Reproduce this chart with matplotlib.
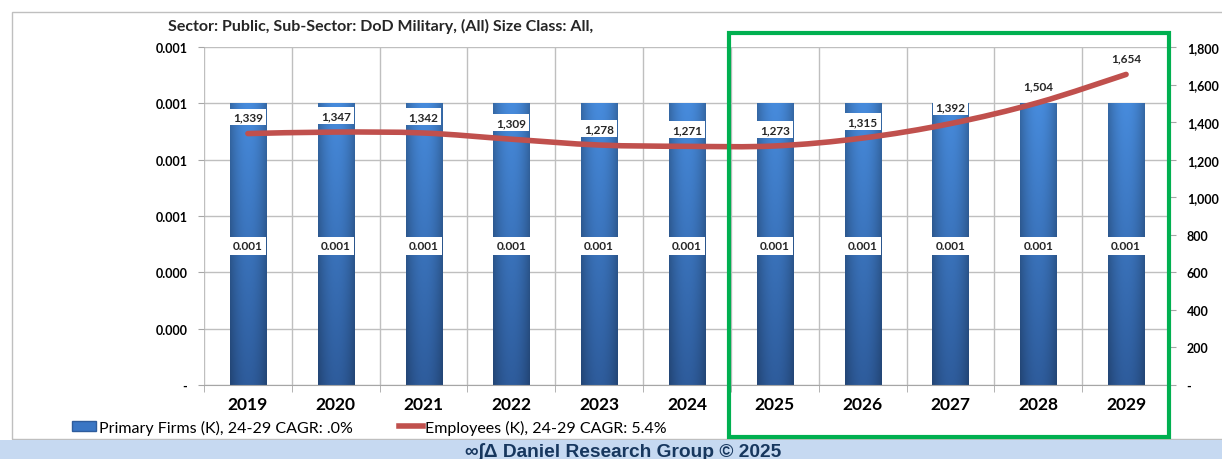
import numpy as np
import matplotlib
matplotlib.use("Agg")
import matplotlib.pyplot as plt
from matplotlib.path import Path
from matplotlib.patches import PathPatch, Patch, Rectangle
from matplotlib.lines import Line2D
from matplotlib.ticker import MultipleLocator, FuncFormatter

plt.rcParams['font.family'] = ['Lato', 'DejaVu Sans']

years = ['2019', '2020', '2021', '2022', '2023', '2024', '2025', '2026', '2027', '2028', '2029']
firms = [0.001] * 11
employees = [1339, 1347, 1342, 1309, 1278, 1271, 1273, 1315, 1392, 1504, 1654]
firm_labels = ['0.001'] * 11

title = 'Sector: Public, Sub-Sector: DoD Military, (All) Size Class: All,'
firms_name = 'Primary Firms (K), 24-29 CAGR: .0%'
emp_name = 'Employees (K), 24-29 CAGR: 5.4%'
footer = '\u221e\u222b\u0394 Daniel Research Group \u00a9 2025'

W, H = 1222, 460
fig = plt.figure(figsize=(W / 100, H / 100), dpi=100)

# outer frame and footer band
fig.patches.append(Rectangle((12 / W, 1 - 440 / H), 1.2, 427 / H, transform=fig.transFigure,
                             fill=False, edgecolor='#bfbfbf', lw=1))
fig.patches.append(Rectangle((0, 0), 1, 19 / H, transform=fig.transFigure,
                             facecolor='#c6d9f1', edgecolor='none'))
fig.text(0.510, 8 / H, footer, ha='center', va='center', fontsize=13.8,
         fontweight='bold', color='#17375e', family=['Liberation Sans', 'DejaVu Sans'])

ax = fig.add_axes([204 / W, 1 - 386 / H, 966 / W, 338 / H])
ax2 = ax.twinx()
x = np.arange(len(years))

# bars with a simple gradient
bars = ax.bar(x, firms, width=0.41, color='#3a76c4', zorder=2)
grad = np.linspace(0, 1, 100).reshape(-1, 1)
horiz = 1 - 0.25 * np.abs(np.linspace(-1, 1, 40)) ** 2
img = np.zeros((100, 40, 3))
top_c = np.array([0x47, 0x8b, 0xdc]) / 255
bot_c = np.array([0x2e, 0x5c, 0x9c]) / 255
for k in range(3):
    img[:, :, k] = (top_c[k] * (1 - grad) + bot_c[k] * grad) * horiz
for b in bars:
    x0, y0 = b.get_x(), b.get_y()
    ax.imshow(img, extent=[x0, x0 + b.get_width(), y0, y0 + b.get_height()],
              aspect='auto', zorder=2.1, interpolation='bilinear')

for xi, v, lab in zip(x, firms, firm_labels):
    ax.annotate(lab, (xi, v / 2), xytext=(0, -1), textcoords='offset points',
                ha='center', va='center', fontsize=8.5, fontweight='bold',
                color='#262626', zorder=4,
                bbox=dict(boxstyle='square,pad=0.3', facecolor='white', edgecolor='none'))

ax.set_xlim(-0.5, len(years) - 0.5)
ax.set_ylim(0, 0.0012)
ax.yaxis.set_major_locator(MultipleLocator(0.0002))
ax.yaxis.set_major_formatter(FuncFormatter(lambda v, p: '-' if v == 0 else f'{v:.3f}'))
ax.set_xticks(x)
ax.set_xticklabels(years, fontsize=12.5, fontweight='bold')
ax.set_xticks(np.arange(-0.5, len(years)), minor=True)
ax.tick_params(axis='x', which='major', length=0, pad=8)
ax.tick_params(axis='x', which='minor', length=5, color='#a6a6a6')
ax.tick_params(axis='y', length=4, color='#a6a6a6', labelsize=9, pad=8)
for t in ax.get_yticklabels():
    t.set_fontweight('bold')
ax.grid(True, axis='y', color='#bfbfbf', lw=1, zorder=0)
ax.grid(True, axis='x', which='minor', color='#bfbfbf', lw=1, zorder=0)
ax.set_axisbelow(True)
for s in ax.spines.values():
    s.set_visible(False)
ax.spines['bottom'].set_visible(True)
ax.spines['bottom'].set_color('#a6a6a6')

# smooth employees line (Catmull-Rom bezier through points)
pts = np.column_stack([x, employees]).astype(float)
verts = [pts[0]]
codes = [Path.MOVETO]
n = len(pts)
for i in range(n - 1):
    p0 = pts[i - 1] if i > 0 else pts[i]
    p1, p2 = pts[i], pts[i + 1]
    p3 = pts[i + 2] if i + 2 < n else pts[i + 1]
    verts += [p1 + (p2 - p0) / 6, p2 - (p3 - p1) / 6, p2]
    codes += [Path.CURVE4] * 3
ax2.add_patch(PathPatch(Path(verts, codes), fill=False, edgecolor='#c0504d', lw=4,
                        capstyle='round', zorder=3))
for xi, v in zip(x, employees):
    ax2.annotate(f'{v:,}', (xi, v), xytext=(0, 8), textcoords='offset points',
                 ha='center', va='bottom', fontsize=8.5, fontweight='bold', color='#262626',
                 zorder=4, bbox=dict(boxstyle='square,pad=0.25', facecolor='white', edgecolor='none'))

ax2.set_ylim(0, 1800)
ax2.yaxis.set_major_locator(MultipleLocator(200))
ax2.yaxis.set_major_formatter(FuncFormatter(lambda v, p: '-' if v == 0 else f'{int(v):,}'))
ax2.tick_params(axis='y', length=4, color='#a6a6a6', labelsize=9, pad=8)
for t in ax2.get_yticklabels():
    t.set_fontweight('bold')
for s in ax2.spines.values():
    s.set_visible(False)
ax.set_zorder(1)
ax2.set_zorder(2)
ax2.patch.set_visible(False)

fig.text(168 / W, 1 - 26 / H, title, ha='left', va='center', fontsize=11.5, fontweight='bold',
         color='#262626')

handles = [Patch(facecolor='#3a76c4', edgecolor='#2e5c9c'),
           Line2D([0], [0], color='#c0504d', lw=4)]
fig.legend(handles, [firms_name, emp_name], loc='center left', ncol=2,
           bbox_to_anchor=(66 / W, 1 - 428 / H), frameon=False, fontsize=11.5,
           handlelength=1.5, handleheight=0.6, handletextpad=0.15, columnspacing=2.9,
           borderaxespad=0)

# highlighted forecast box
fig.patches.append(Rectangle((729 / W, 1 - 438 / H), 440 / W, 404 / H, transform=fig.transFigure,
                             fill=False, edgecolor='#00b050', lw=3, zorder=10))

fig.savefig('out.png', dpi=100)
